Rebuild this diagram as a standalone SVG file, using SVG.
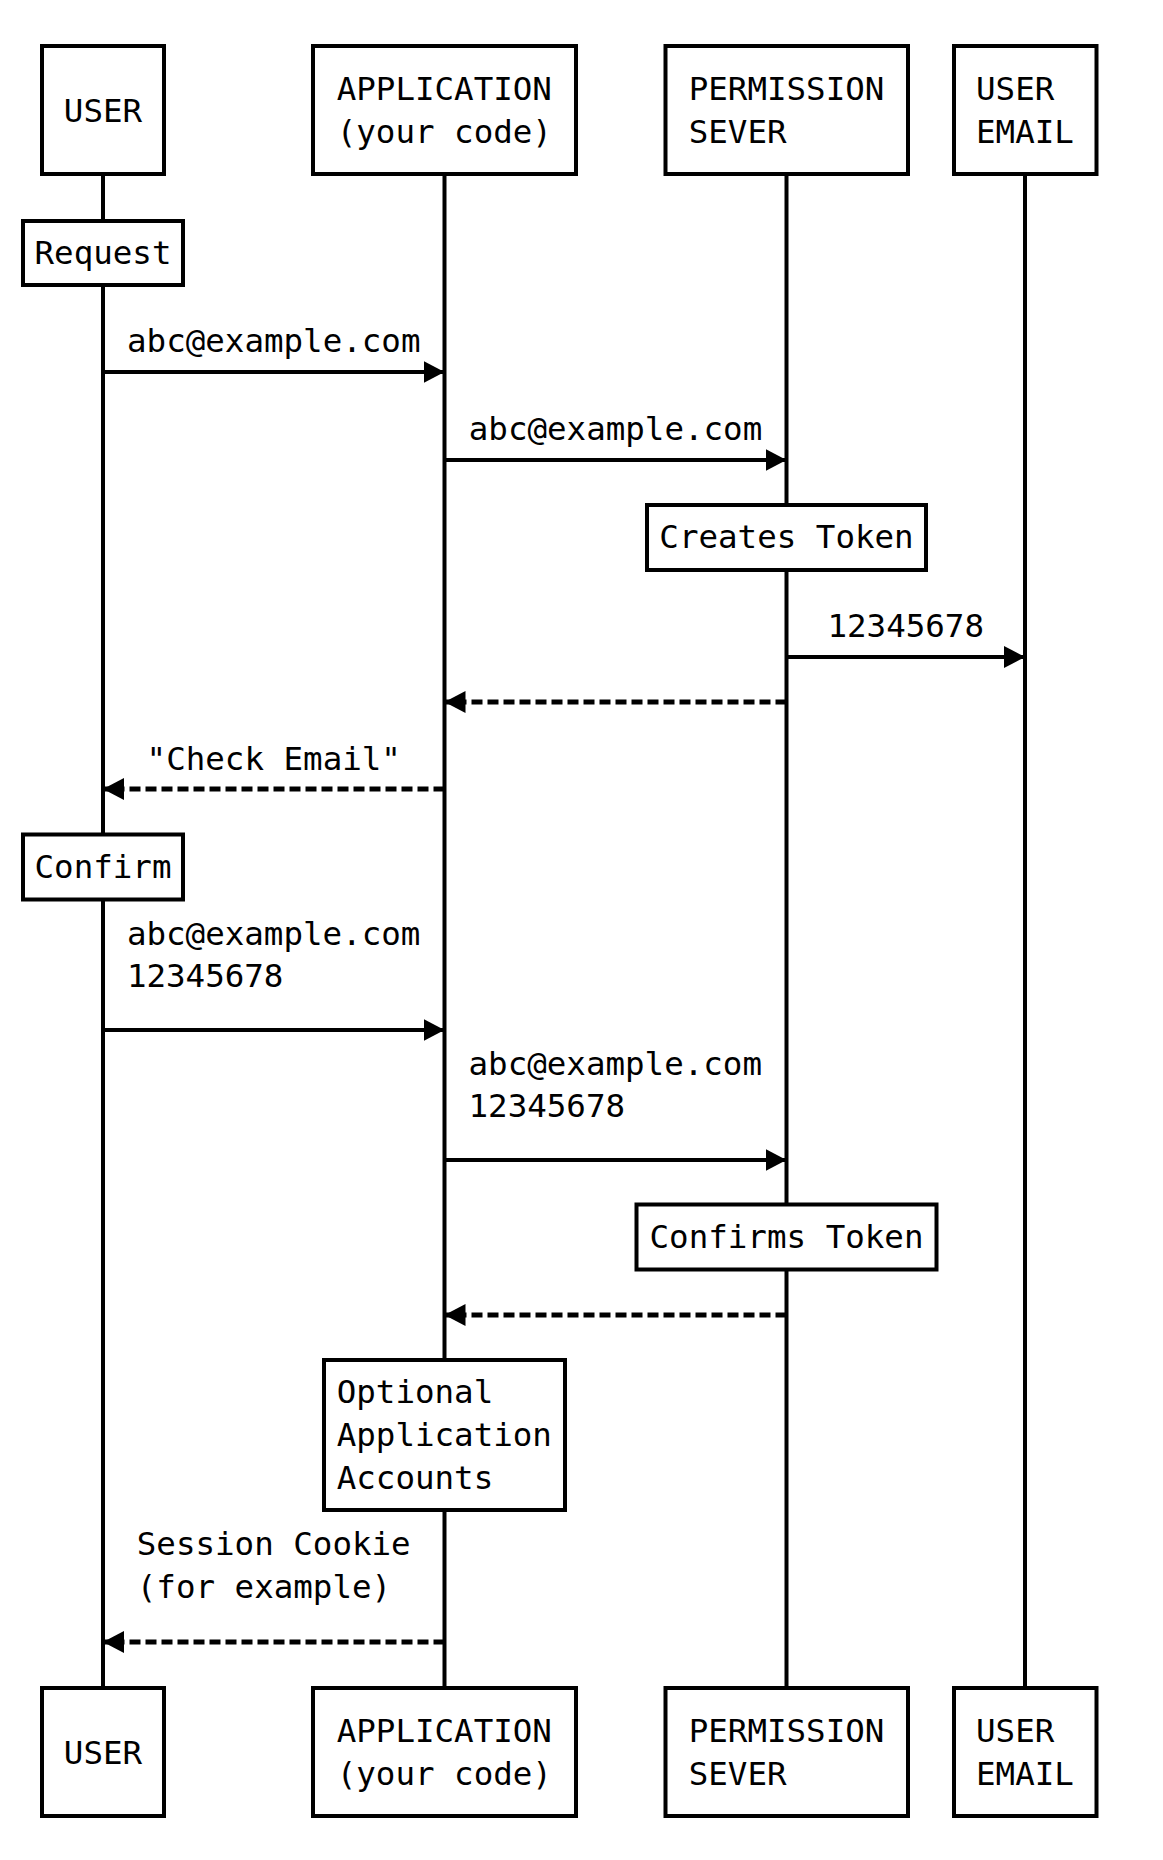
<svg xmlns="http://www.w3.org/2000/svg" width="1163" height="1860" viewBox="0 0 1163 1860">
<style>
text{font-family:"DejaVu Sans Mono","Liberation Mono",monospace;font-size:32.5px;fill:#000}
.box{fill:#fff;stroke:#000;stroke-width:4}
.life{stroke:#000;stroke-width:4;fill:none}
.msg{stroke:#000;stroke-width:4;fill:none;marker-end:url(#ah)}
.dash{stroke-dasharray:11 5;stroke-width:5}
.c{text-anchor:middle}
</style>
<defs>
<marker id="ah" markerUnits="userSpaceOnUse" markerWidth="22" markerHeight="24" refX="21" refY="11.5" orient="auto">
<path d="M0,0.5 L21,11.5 L0,22.5 z" fill="#000"/>
</marker>
</defs>
<rect width="1163" height="1860" fill="#fff"/>
<g id="lifelines">
<line class="life" x1="103" y1="174" x2="103" y2="1688"/>
<line class="life" x1="444.5" y1="174" x2="444.5" y2="1688"/>
<line class="life" x1="786.5" y1="174" x2="786.5" y2="1688"/>
<line class="life" x1="1025" y1="174" x2="1025" y2="1688"/>
</g>
<g id="connectors">
<line class="msg" x1="103" y1="372" x2="444.5" y2="372"/>
<text class="c" x="273.75" y="352">abc@example.com</text>
<line class="msg" x1="444.5" y1="460" x2="786.5" y2="460"/>
<text class="c" x="615.5" y="440">abc@example.com</text>
<line class="msg" x1="786.5" y1="657" x2="1025" y2="657"/>
<text class="c" x="905.75" y="637">12345678</text>
<line class="msg dash" x1="786.5" y1="702" x2="444.5" y2="702"/>
<line class="msg dash" x1="444.5" y1="789" x2="103" y2="789"/>
<text class="c" x="273.75" y="770">"Check Email"</text>
<line class="msg" x1="103" y1="1030" x2="444.5" y2="1030"/>
<text x="126.9" y="945">abc@example.com</text>
<text x="126.9" y="987">12345678</text>
<line class="msg" x1="444.5" y1="1160" x2="786.5" y2="1160"/>
<text x="468.5" y="1075">abc@example.com</text>
<text x="468.5" y="1117">12345678</text>
<line class="msg dash" x1="786.5" y1="1315" x2="444.5" y2="1315"/>
<line class="msg dash" x1="444.5" y1="1642" x2="103" y2="1642"/>
<text x="136.75" y="1555">Session Cookie</text>
<text x="136.75" y="1598">(for example)</text>
</g>
<g id="user-top"><rect class="box" x="42" y="46" width="122" height="128"/><text class="c" x="103" y="121.5">USER</text></g>
<g id="app-top"><rect class="box" x="313" y="46" width="263" height="128"/><text x="336.7" y="100">APPLICATION</text><text x="336.7" y="143">(your code)</text></g>
<g id="perm-top"><rect class="box" x="665.5" y="46" width="242.5" height="128"/><text x="688.7" y="100">PERMISSION</text><text x="688.7" y="143">SEVER</text></g>
<g id="email-top"><rect class="box" x="954" y="46" width="142.5" height="128"/><text x="976" y="100">USER</text><text x="976" y="143">EMAIL</text></g>
<g id="note-request"><rect class="box" x="23" y="221" width="160" height="64"/><text class="c" x="103" y="263.5">Request</text></g>
<g id="note-creates"><rect class="box" x="647" y="505" width="279" height="65"/><text class="c" x="786.5" y="548">Creates Token</text></g>
<g id="note-confirm"><rect class="box" x="23" y="834.5" width="160" height="65"/><text class="c" x="103" y="878">Confirm</text></g>
<g id="note-confirms"><rect class="box" x="636.5" y="1204.5" width="300" height="65"/><text class="c" x="786.5" y="1248">Confirms Token</text></g>
<g id="note-optional"><rect class="box" x="324" y="1360" width="241" height="150"/><text x="336.7" y="1403">Optional</text><text x="336.7" y="1446">Application</text><text x="336.7" y="1489">Accounts</text></g>
<g id="user-bottom"><rect class="box" x="42" y="1688" width="122" height="128"/><text class="c" x="103" y="1763.5">USER</text></g>
<g id="app-bottom"><rect class="box" x="313" y="1688" width="263" height="128"/><text x="336.7" y="1742">APPLICATION</text><text x="336.7" y="1785">(your code)</text></g>
<g id="perm-bottom"><rect class="box" x="665.5" y="1688" width="242.5" height="128"/><text x="688.7" y="1742">PERMISSION</text><text x="688.7" y="1785">SEVER</text></g>
<g id="email-bottom"><rect class="box" x="954" y="1688" width="142.5" height="128"/><text x="976" y="1742">USER</text><text x="976" y="1785">EMAIL</text></g>
</svg>
